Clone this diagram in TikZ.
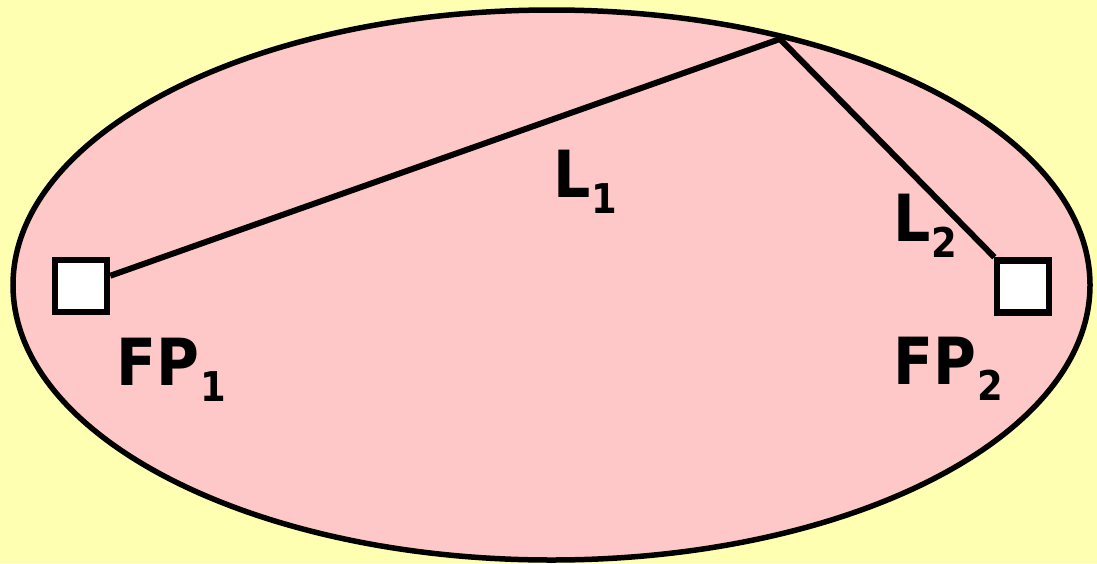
\documentclass[tikz,border=0pt]{standalone}
\usepackage{fontspec}
\setmainfont{DejaVu Sans Condensed}
\definecolor{bgyellow}{RGB}{255,255,178}
\definecolor{ellpink}{RGB}{255,200,200}
\tikzset{
  fpbox/.style={draw=black, fill=white, line width=6.5pt, minimum size=52pt, inner sep=0pt},
  lbl/.style={anchor=base west, inner sep=0pt, font=\bfseries},
  conn/.style={line width=6pt, black},
}
\newcommand{\biglbl}[2]{{\fontsize{65}{65}\selectfont #1}\kern1pt\raisebox{-16pt}{\fontsize{41}{41}\selectfont #2}}
\begin{document}
\begin{tikzpicture}[x=1pt,y=-1pt]
\fill[bgyellow] (0,0) rectangle (1097,563);
\useasboundingbox (0,0) rectangle (1097,563);
\draw[line width=5.5pt, fill=ellpink] (551.5,285) ellipse [x radius=538.5, y radius=275];
\coordinate (apex) at (780,39);
\node[fpbox] (fp1) at (81,286) {};
\node[fpbox] (fp2) at (1023,286.5) {};
\draw[conn] (fp1) -- (apex) -- (fp2);
\node[lbl] (l1) at (553,197) {\biglbl{L}{1}};
\node[lbl] (l2) at (893,241) {\biglbl{L}{2}};
\node[lbl] (t1) at (116,385) {\biglbl{FP}{1}};
\node[lbl] (t2) at (893,384) {\biglbl{FP}{2}};
\end{tikzpicture}
\end{document}
